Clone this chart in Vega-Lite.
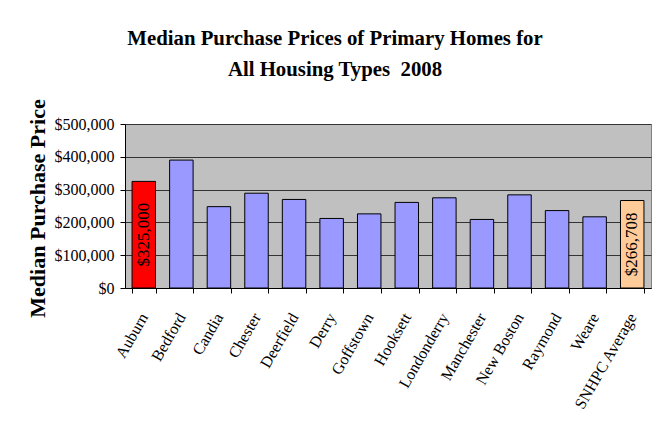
{
  "$schema": "https://vega.github.io/schema/vega-lite/v6.json",
  "width": 526,
  "height": 164,
  "autosize": {"type": "none"},
  "padding": {"left": 125, "top": 124, "right": 6, "bottom": 141},
  "background": "white",
  "title": {
    "text": ["Median Purchase Prices of Primary Homes for", "All Housing Types\u00a0 2008"],
    "font": "Liberation Serif",
    "fontSize": 20.8,
    "fontWeight": "bold",
    "color": "#000000",
    "anchor": "middle",
    "dx": -53,
    "offset": 18,
    "lineHeight": 31
  },
  "data": {
    "values": [
      {"town": "Auburn", "price": 325000},
      {"town": "Bedford", "price": 390000},
      {"town": "Candia", "price": 248000},
      {"town": "Chester", "price": 289000},
      {"town": "Deerfield", "price": 270000},
      {"town": "Derry", "price": 212000},
      {"town": "Goffstown", "price": 226000},
      {"town": "Hooksett", "price": 261000},
      {"town": "Londonderry", "price": 275000},
      {"town": "Manchester", "price": 209000},
      {"town": "New Boston", "price": 284000},
      {"town": "Raymond", "price": 236000},
      {"town": "Weare", "price": 217000},
      {"town": "SNHPC Average", "price": 266708}
    ]
  },
  "encoding": {
    "x": {
      "field": "town",
      "type": "nominal",
      "sort": null,
      "scale": {"paddingInner": 0.375, "paddingOuter": 0.1875},
      "axis": {
        "title": null,
        "labelAngle": -60,
        "labelAlign": "right",
        "labelBaseline": "middle",
        "tickBand": "extent",
        "tickSize": 5,
        "tickColor": "#000000",
        "domainColor": "#000000",
        "labelPadding": 21,
        "labelFont": "Liberation Serif",
        "labelFontSize": 16,
        "labelColor": "#000000",
        "grid": false
      }
    }
  },
  "layer": [
    {
      "mark": {"type": "bar", "stroke": "#000000", "strokeWidth": 1},
      "encoding": {
        "y": {
          "field": "price",
          "type": "quantitative",
          "scale": {"domain": [0, 500000], "nice": false},
          "axis": {
            "title": "Median Purchase Price",
            "format": "$,.0f",
            "values": [0, 100000, 200000, 300000, 400000, 500000],
            "grid": true,
            "gridColor": "#333333",
            "gridWidth": 1,
            "domainColor": "#000000",
            "tickColor": "#000000",
            "tickSize": 5,
            "labelFont": "Liberation Serif",
            "labelFontSize": 16,
            "labelColor": "#000000",
            "labelPadding": 6,
            "titleFont": "Liberation Serif",
            "titleFontSize": 22,
            "titleFontWeight": "bold",
            "titleColor": "#000000",
            "titleAngle": -90,
            "titleX": -81,
            "titleY": 84,
            "titleAlign": "center",
            "titleBaseline": "alphabetic"
          }
        },
        "color": {
          "condition": [
            {"test": "datum.town === 'Auburn'", "value": "#FF0000"},
            {"test": "datum.town === 'SNHPC Average'", "value": "#FFCC99"}
          ],
          "value": "#9999FF"
        }
      }
    },
    {
      "transform": [{"filter": "datum.town === 'Auburn' || datum.town === 'SNHPC Average'"}],
      "mark": {"type": "text", "angle": 270, "font": "Liberation Serif", "fontSize": 17, "align": "center", "baseline": "middle", "color": "#000000"},
      "encoding": {
        "y": {"field": "price", "type": "quantitative", "scale": {"domain": [0, 1000000], "nice": false}, "axis": null},
        "text": {"field": "price", "type": "quantitative", "format": "$,.0f"}
      }
    }
  ],
  "resolve": {"scale": {"y": "independent"}},
  "config": {
    "font": "Liberation Serif",
    "axis": {"labelFont": "Liberation Serif", "titleFont": "Liberation Serif"},
    "view": {"fill": "#C0C0C0", "stroke": "#808080", "strokeWidth": 1}
  }
}
